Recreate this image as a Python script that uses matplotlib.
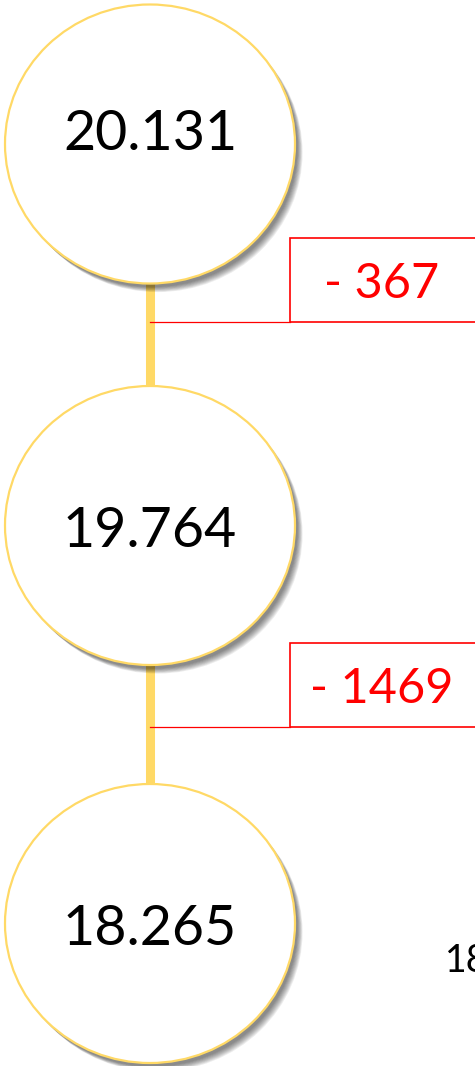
import matplotlib.pyplot as plt
from matplotlib.patches import Ellipse, Rectangle

# values shown in the circles (top to bottom)
values = ['20.131', '19.764', '18.265']
# change between consecutive circles
diffs = ['- 367', '- 1469']
# partly visible label on the right edge
side_label = '18'

# layout, in pixels of the 475x1066 picture
W, H = 475, 1066
cx = 150
circle_cy = [144, 525.5, 923.5]
circle_w, circle_h = 290, 279
text_base = [150, 547, 945]
box_top = [238, 643]
box_bot = [322, 727]
box_left = 290

gold = '#FFD966'
red = '#FF0000'
font = ['Lato', 'DejaVu Sans']

fig = plt.figure(figsize=(W / 100, H / 100), dpi=100)
ax = fig.add_axes([0, 0, 1, 1])
ax.set_xlim(0, W)
ax.set_ylim(H, 0)
ax.axis('off')

# yellow connectors between circles
for i in range(len(values) - 1):
    y0 = circle_cy[i] + circle_h / 2
    y1 = circle_cy[i + 1] - circle_h / 2
    ax.plot([cx, cx], [y0, y1], color=gold, lw=6.5, solid_capstyle='butt', zorder=1)

# circles with a soft drop shadow
for i, v in enumerate(values):
    cy = circle_cy[i]
    for k in range(1, 9):
        ax.add_patch(Ellipse((cx + 2 + k * 0.7, cy + 3 + k * 0.7), circle_w, circle_h,
                             facecolor='#000000', edgecolor='none', alpha=0.07, zorder=2))
    ax.add_patch(Ellipse((cx, cy), circle_w, circle_h, facecolor='white',
                         edgecolor=gold, lw=1.6, zorder=3))
    ax.text(cx, text_base[i], v, ha='center', va='baseline', fontsize=40,
            family=font, color='black', zorder=4)

# red difference boxes with leader lines
for i, d in enumerate(diffs):
    top, bot = box_top[i], box_bot[i]
    ax.add_patch(Rectangle((box_left, top), W + 20 - box_left, bot - top,
                           facecolor='white', edgecolor=red, lw=1.2, zorder=3))
    ax.plot([cx, box_left], [bot, bot], color=red, lw=0.9, zorder=2)
    ax.text(382, bot - 24, d, ha='center', va='baseline', fontsize=35,
            family=font, color=red, zorder=4)

# label that runs off the right edge, as in the original
ax.text(445, 972, side_label, ha='left', va='baseline', fontsize=27,
        family=font, color='black')

fig.savefig('out.png', dpi=100)
